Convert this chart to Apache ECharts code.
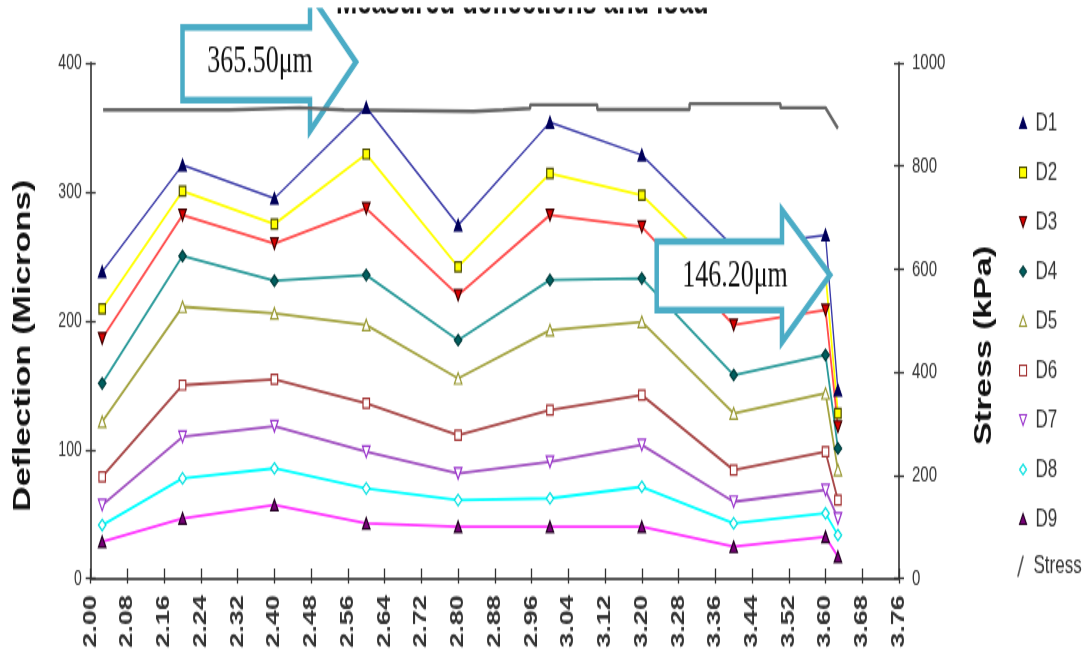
<!DOCTYPE html>
<html>
<head>
<meta charset="utf-8">
<title>Measured deflections and load</title>
<script src="https://cdn.jsdelivr.net/npm/echarts@6/dist/echarts.min.js"></script>
<style>
  html, body { margin: 0; padding: 0; background: #fff; overflow: hidden; }
  #wrap { width: 1084px; height: 657px; overflow: hidden; }
  /* the chart is laid out on a short canvas and stretched tall */
  #chart { width: 1084px; height: 438px; transform: scaleY(1.5); transform-origin: 0 0; }
</style>
</head>
<body>
<div id="wrap"><div id="chart"></div></div>
<script>
// Offsets (x) at which deflections were recorded
const offsets = [2.025, 2.2, 2.4, 2.6, 2.8, 3.0, 3.2, 3.4, 3.6, 3.627];

// Deflections in microns, sensors D1..D9
const D1 = [238.0, 320.8, 295.0, 365.5, 274.2, 354.0, 328.6, 257.2, 266.5, 146.2];
const D2 = [209.3, 300.6, 275.0, 329.3, 241.9, 314.3, 297.5, 227.7, 236.0, 128.2];
const D3 = [186.3, 282.0, 260.0, 287.2, 219.9, 282.0, 272.9, 196.7, 208.3, 117.8];
const D4 = [151.4, 250.2, 231.0, 235.5, 185.0, 231.6, 232.9, 157.9, 173.4, 101.0];
const D5 = [121.6, 210.9, 205.7, 196.7, 155.3, 192.8, 199.2, 128.2, 143.7, 84.2];
const D6 = [79.0, 150.1, 154.5, 135.9, 111.3, 130.7, 142.4, 84.2, 98.4, 60.9];
const D7 = [57.0, 110.0, 118.3, 98.4, 81.6, 90.6, 103.6, 59.6, 68.7, 46.7];
const D8 = [41.5, 77.7, 85.5, 70.0, 60.9, 62.2, 71.2, 42.8, 50.6, 33.7];
const D9 = [28.5, 46.7, 57.0, 42.8, 40.2, 40.2, 40.2, 24.7, 32.4, 16.9];

// Applied stress (kPa), held level between readings
const stressX   = [2.027, 2.301, 2.301, 2.455, 2.455, 2.552, 2.552, 2.834, 2.834, 2.898, 2.898, 2.957, 2.957, 3.103, 3.103, 3.304, 3.304, 3.502, 3.502, 3.600, 3.627];
const stressKPa = [909, 909, 913, 913, 909, 909, 906, 906, 909, 909, 912, 912, 919, 919, 910, 910, 921, 921, 913, 913, 873];

// Axis ticks
const xTicks = { min: 2.0, max: 3.76, step: 0.08 };
const deflTicks = { min: 0, max: 400, step: 100 };
const stressTicks = { min: 0, max: 1000, step: 200 };

const FONT = '"Liberation Sans", Arial, sans-serif';
const SERIF = '"Liberation Serif", "Times New Roman", serif';

const invTri = 'path://M0,0L10,0L5,10Z';

// name, values, line colour, symbol, fill, border
const sensors = [
  ['D1', D1, '#3c3ca8', 'triangle', '#00005a', '#00005a'],
  ['D2', D2, '#ffff00', 'rect',     '#ffff00', '#4a4a00'],
  ['D3', D3, '#ff4d4d', invTri,     '#d80000', '#400000'],
  ['D4', D4, '#2a9a9a', 'diamond',  '#005f5f', '#003c3c'],
  ['D5', D5, '#a3a340', 'triangle', '#ffffff', '#999933'],
  ['D6', D6, '#a84848', 'rect',     '#ffffff', '#a33333'],
  ['D7', D7, '#a050c0', invTri,     '#ffffff', '#9933cc'],
  ['D8', D8, '#00ffff', 'diamond',  '#ffffff', '#00e0e0'],
  ['D9', D9, '#ff33ff', 'triangle', '#770077', '#220022']
];

const series = sensors.map(([name, vals, lc, sym, fill, border]) => ({
  name: name,
  type: 'line',
  xAxisIndex: 0,
  yAxisIndex: 0,
  data: offsets.map((x, i) => [x, vals[i]]),
  symbol: sym,
  symbolSize: name === 'D2' || name === 'D6' ? 6.5 : 7.5,
  showAllSymbol: true,
  lineStyle: { color: lc, width: name === 'D1' ? 1.4 : 1.8 },
  itemStyle: { color: fill, borderColor: border, borderWidth: 1.2 },
  emphasis: { disabled: true },
  z: 3
}));

series.push({
  name: 'Stress',
  type: 'line',
  xAxisIndex: 0,
  yAxisIndex: 1,
  data: stressX.map((x, i) => [x, stressKPa[i]]),
  symbol: 'none',
  lineStyle: { color: '#666666', width: 2.4 },
  itemStyle: { color: '#666666' },
  emphasis: { disabled: true },
  z: 2
});

const sensorLegend = sensors.map(([name, , , sym, fill, border]) => ({
  name: name,
  icon: sym,
  itemStyle: { color: fill, borderColor: border, borderWidth: 1.1 }
}));
const stressLegend = [{
  name: 'Stress',
  icon: 'path://M0,10L1.2,10L5,0L3.8,0Z',
  itemStyle: { color: '#555555', borderWidth: 0 }
}];

const legendText = { fontSize: 17, color: '#333', lineHeight: 20, padding: [0, 0, 0, 4], fontFamily: FONT };

const axisLine = { show: true, lineStyle: { color: '#5a5a5a', width: 2 } };
const tickStyle = { color: '#333', width: 1.3 };

function valueY(t, pos, extra) {
  return Object.assign({
    type: 'value', position: pos, min: t.min, max: t.max, interval: t.step,
    splitLine: { show: false }
  }, extra);
}

const deflectionFirst = D1[3];
const deflectionLast = D1[D1.length - 1];

function arrow(pts, label, cx, cy, z) {
  return {
    type: 'group', z: z,
    children: [
      { type: 'polygon', z: z, shape: { points: pts },
        style: { fill: '#ffffff', stroke: '#4bacc6', lineWidth: 4.5, lineJoin: 'miter' } },
      { type: 'text', z: z + 1, x: cx, y: cy,
        style: { text: label, fontFamily: SERIF, fontSize: 26, fill: '#111',
                 align: 'center', verticalAlign: 'middle' } }
    ]
  };
}

const option = {
  animation: false,
  backgroundColor: '#ffffff',
  textStyle: { fontFamily: FONT },
  title: {
    text: 'Measured deflections and load',
    left: 336, top: -10.5, padding: 0,
    textStyle: { fontSize: 25.5, fontWeight: 'bold', color: '#111', lineHeight: 25, fontFamily: FONT }
  },
  grid: { left: 90.7, right: 185, top: 42, bottom: 52.3, containLabel: false },
  legend: [
    {
      orient: 'vertical', left: 1014, top: 67,
      itemWidth: 7, itemHeight: 7, itemGap: 13,
      textStyle: legendText,
      data: sensorLegend
    },
    {
      orient: 'vertical', left: 1012, top: 362.5,
      itemWidth: 8, itemHeight: 14,
      textStyle: legendText,
      data: stressLegend
    }
  ],
  xAxis: [
    {
      type: 'value', position: 'bottom', min: xTicks.min, max: xTicks.max, interval: xTicks.step,
      axisLine: axisLine,
      axisTick: { show: true, inside: false, length: 3.4, lineStyle: tickStyle },
      axisLabel: {
        rotate: 90, margin: 11, fontSize: 18, fontWeight: 'bold', color: '#333', fontFamily: FONT,
        formatter: v => v.toFixed(2), showMinLabel: true, showMaxLabel: true
      },
      splitLine: { show: false }
    },
    {
      type: 'value', position: 'bottom', min: xTicks.min, max: xTicks.max, interval: xTicks.step,
      axisLine: { show: false },
      axisTick: { show: true, inside: true, length: 6.7, lineStyle: tickStyle },
      axisLabel: { show: false },
      splitLine: { show: false }
    }
  ],
  yAxis: [
    valueY(deflTicks, 'left', {
      name: 'Deflection (Microns)', nameLocation: 'middle', nameGap: 56, nameRotate: 90,
      nameTextStyle: { fontSize: 23, fontWeight: 'bold', color: '#111', padding: [0, 33, 0, 0], fontFamily: FONT },
      axisLine: axisLine,
      axisTick: { show: true, inside: false, length: 5, lineStyle: tickStyle },
      axisLabel: { fontSize: 14, margin: 9, color: '#333', fontFamily: FONT, formatter: v => String(v) }
    }),
    valueY(stressTicks, 'right', {
      name: 'Stress (kPa)', nameLocation: 'middle', nameGap: 74.5, nameRotate: 90,
      nameTextStyle: { fontSize: 23, fontWeight: 'bold', color: '#111', padding: [0, 33, 0, 0], fontFamily: FONT },
      axisLine: axisLine,
      axisTick: { show: true, inside: false, length: 5, lineStyle: tickStyle },
      axisLabel: { fontSize: 15, margin: 13, color: '#333', fontFamily: FONT, formatter: v => String(v) }
    }),
    valueY(deflTicks, 'left', {
      axisLine: { show: false },
      axisTick: { show: true, inside: true, length: 5, lineStyle: tickStyle },
      axisLabel: { show: false }
    }),
    valueY(stressTicks, 'right', {
      axisLine: { show: false },
      axisTick: { show: true, inside: true, length: 5, lineStyle: tickStyle },
      axisLabel: { show: false }
    })
  ],
  series: series,
  graphic: [
    arrow([[182.5, 18.3], [310, 18.3], [310, -4], [356, 41.3], [310, 87.3], [310, 66.7], [182.5, 66.7]],
          deflectionFirst.toFixed(2) + 'μm', 260, 41.3, 1),
    arrow([[656.7, 161.1], [782, 161.1], [782, 140], [830, 183.3], [782, 228], [782, 206.7], [656.7, 206.7]],
          deflectionLast.toFixed(2) + 'μm', 735, 184, 60),
    { type: 'rect', z: 200, shape: { x: 0, y: 0, width: 1084, height: 5.3 }, style: { fill: '#ffffff' } }
  ]
};

const chart = echarts.init(document.getElementById('chart'), null, { renderer: 'canvas' });
chart.setOption(option);
</script>
</body>
</html>
